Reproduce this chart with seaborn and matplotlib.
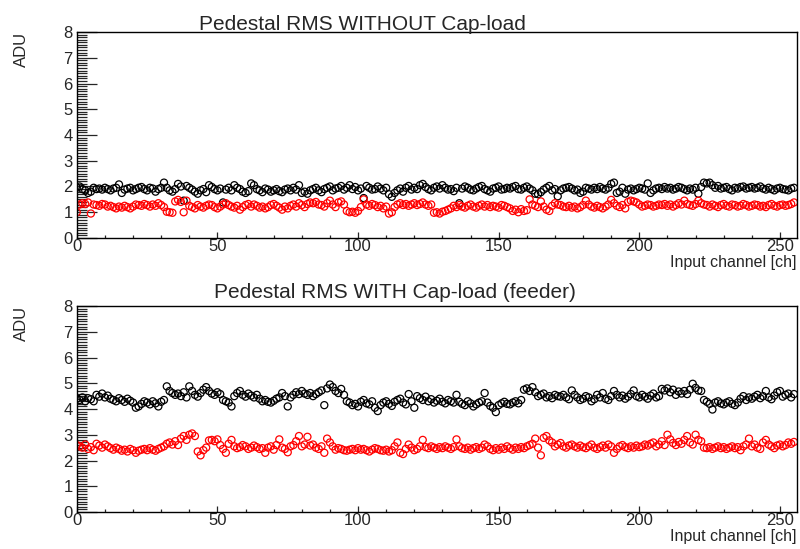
import numpy as np
import pandas as pd
import matplotlib
matplotlib.use("Agg")
import matplotlib.pyplot as plt
import seaborn as sns
from matplotlib.ticker import MultipleLocator, AutoMinorLocator

# pedestal RMS per channel (ADU)
rms_nocap_black = [
    1.95, 2.00, 1.90, 1.85, 1.75, 1.80, 1.95, 1.90, 1.92, 1.88, 1.95, 1.90, 1.85, 1.92, 1.95, 2.08,
    1.75, 1.88, 1.92, 1.95, 1.85, 1.90, 1.95, 1.98, 1.90, 1.85, 1.95, 1.92, 1.80, 1.90, 1.95, 2.15,
    1.95, 1.85, 1.80, 1.90, 2.10, 2.00, 1.45, 2.02, 1.95, 1.88, 1.80, 1.72, 1.85, 1.90, 1.78, 2.05,
    1.98, 1.90, 1.85, 1.92, 1.38, 1.88, 1.95, 1.85, 2.05, 1.95, 1.90, 1.80, 1.75, 1.82, 2.12, 2.05,
    1.90, 1.85, 1.78, 1.92, 1.88, 1.80, 1.85, 1.90, 1.82, 1.78, 1.88, 1.92, 1.85, 1.95, 1.88, 2.05,
    1.75, 1.80, 1.72, 1.85, 1.90, 1.95, 1.85, 1.78, 1.90, 1.95, 2.00, 1.85, 1.92, 1.95, 2.02, 1.88,
    1.95, 2.05, 1.90, 1.98, 1.85, 1.92, 1.55, 2.02, 1.95, 1.88, 1.90, 2.00, 1.92, 1.85, 1.95, 1.70,
    1.60, 1.75, 1.85, 1.92, 1.80, 1.95, 2.02, 1.88, 1.95, 1.90, 2.05, 2.10, 1.98, 1.90, 1.85, 1.95,
    2.00, 1.92, 2.05, 1.95, 1.88, 1.90, 1.82, 1.95, 1.35, 1.92, 2.00, 1.95, 1.88, 1.85, 1.92, 1.98,
    2.02, 1.90, 1.85, 1.80, 1.92, 1.95, 2.00, 1.88, 1.90, 1.95, 1.92, 1.98, 2.02, 1.90, 1.88, 1.95,
    2.00, 1.92, 1.85, 1.72, 1.70, 1.78, 1.88, 1.95, 2.02, 1.85, 1.90, 1.62, 1.85, 1.92, 1.95, 1.98,
    1.92, 1.85, 1.88, 1.75, 1.80, 1.95, 1.92, 1.88, 1.95, 1.90, 1.98, 1.92, 1.88, 1.95, 2.10, 2.15,
    1.75, 1.80, 1.95, 1.72, 1.88, 1.92, 1.85, 1.90, 1.95, 1.92, 1.88, 2.12, 1.75, 1.85, 1.92, 1.95,
    1.90, 1.98, 1.92, 1.95, 1.88, 1.92, 1.98, 1.95, 1.90, 1.85, 1.92, 1.88, 1.95, 1.72, 1.98, 2.15,
    2.12, 2.15, 2.05, 1.95, 2.02, 1.92, 1.95, 1.98, 1.90, 1.85, 1.95, 1.92, 1.98, 2.00, 1.92, 1.95,
    1.98, 1.92, 1.95, 2.00, 1.92, 1.88, 1.95, 1.90, 1.85, 1.92, 1.95, 1.90, 1.88, 1.85, 1.92, 1.95,
]
rms_nocap_red = [
    1.00, 1.30, 1.35, 1.32, 1.38, 0.95, 1.30, 1.28, 1.25, 1.32, 1.30, 1.22, 1.25, 1.20, 1.15, 1.22,
    1.18, 1.25, 1.20, 1.15, 1.22, 1.30, 1.28, 1.25, 1.32, 1.28, 1.22, 1.30, 1.25, 1.35, 1.28, 1.20,
    1.02, 1.00, 0.98, 1.42, 1.48, 1.40, 1.00, 1.45, 1.25, 1.20, 1.15, 1.28, 1.22, 1.18, 1.25, 1.30,
    1.28, 1.20, 1.15, 1.22, 1.30, 1.35, 1.28, 1.22, 1.18, 1.25, 1.10, 1.20, 1.28, 1.32, 1.22, 1.30,
    1.25, 1.18, 1.22, 1.15, 1.20, 1.28, 1.32, 1.25, 1.18, 1.10, 1.22, 1.15, 1.25, 1.30, 1.22, 1.35,
    1.28, 1.20, 1.32, 1.38, 1.35, 1.40, 1.30, 1.28, 1.22, 1.35, 1.45, 1.30, 1.20, 1.38, 1.42, 1.30,
    1.05, 1.00, 1.02, 0.98, 1.05, 1.20, 1.50, 1.30, 1.25, 1.32, 1.28, 1.20, 1.25, 1.15, 1.22, 0.95,
    1.00, 1.20, 1.30, 1.35, 1.28, 1.32, 1.25, 1.30, 1.35, 1.28, 1.32, 1.38, 1.30, 1.25, 1.30, 0.98,
    1.00, 0.95, 1.02, 1.05, 1.10, 1.15, 1.25, 1.20, 1.28, 1.22, 1.18, 1.25, 1.30, 1.22, 1.18, 1.25,
    1.30, 1.22, 1.28, 1.20, 1.25, 1.22, 1.18, 1.28, 1.25, 1.20, 1.15, 1.05, 1.10, 1.00, 1.12, 1.05,
    1.08, 1.50, 1.30, 1.25, 1.20, 1.42, 1.22, 1.10, 1.05, 1.25, 1.35, 1.30, 1.28, 1.22, 1.20, 1.25,
    1.18, 1.22, 1.15, 1.20, 1.28, 1.45, 1.30, 1.22, 1.18, 1.25, 1.20, 1.15, 1.22, 1.30, 1.48, 1.35,
    1.25, 1.20, 1.28, 1.15, 1.40, 1.45, 1.42, 1.38, 1.30, 1.22, 1.25, 1.30, 1.28, 1.22, 1.25, 1.30,
    1.28, 1.32, 1.25, 1.30, 1.22, 1.28, 1.35, 1.30, 1.45, 1.32, 1.28, 1.25, 1.32, 1.45, 1.35, 1.30,
    1.28, 1.22, 1.30, 1.25, 1.20, 1.28, 1.32, 1.25, 1.22, 1.30, 1.28, 1.22, 1.25, 1.32, 1.28, 1.22,
    1.25, 1.30, 1.28, 1.22, 1.25, 1.20, 1.28, 1.32, 1.25, 1.22, 1.28, 1.30, 1.25, 1.28, 1.32, 1.38,
]
rms_cap_black = [
    4.40, 4.35, 4.45, 4.30, 4.42, 4.38, 4.30, 4.55, 4.48, 4.60, 4.45, 4.52, 4.40, 4.35, 4.30, 4.42,
    4.35, 4.28, 4.40, 4.32, 4.25, 4.05, 4.10, 4.20, 4.30, 4.25, 4.18, 4.30, 4.22, 4.10, 4.28, 4.35,
    4.88, 4.70, 4.62, 4.55, 4.60, 4.50, 4.65, 4.45, 4.88, 4.70, 4.55, 4.48, 4.62, 4.75, 4.85, 4.70,
    4.60, 4.55, 4.65, 4.58, 4.35, 4.30, 4.25, 4.10, 4.50, 4.62, 4.70, 4.55, 4.48, 4.60, 4.52, 4.45,
    4.55, 4.40, 4.30, 4.35, 4.28, 4.25, 4.32, 4.40, 4.45, 4.62, 4.50, 4.10, 4.45, 4.55, 4.65, 4.58,
    4.70, 4.60, 4.55, 4.62, 4.50, 4.58, 4.65, 4.72, 4.15, 4.80, 4.95, 4.85, 4.70, 4.62, 4.78, 4.55,
    4.30, 4.25, 4.15, 4.20, 4.10, 4.28, 4.35, 4.22, 4.18, 4.30, 4.05, 3.92, 4.15, 4.25, 4.30, 4.20,
    4.12, 4.28, 4.35, 4.40, 4.25, 4.18, 4.58, 4.30, 4.05, 4.50, 4.42, 4.35, 4.48, 4.30, 4.38, 4.25,
    4.32, 4.40, 4.28, 4.22, 4.35, 4.30, 4.25, 4.55, 4.28, 4.20, 4.15, 4.30, 4.22, 4.10, 4.18, 4.25,
    4.30, 4.62, 4.25, 4.12, 4.05, 3.88, 4.15, 4.22, 4.28, 4.20, 4.18, 4.25, 4.30, 4.22, 4.35, 4.75,
    4.80, 4.70, 4.85, 4.65, 4.50, 4.55, 4.60, 4.45, 4.50, 4.42, 4.55, 4.50, 4.48, 4.55, 4.45, 4.38,
    4.72, 4.55, 4.45, 4.35, 4.40, 4.50, 4.45, 4.30, 4.38, 4.55, 4.45, 4.62, 4.40, 4.35, 4.50, 4.70,
    4.55, 4.45, 4.52, 4.40, 4.48, 4.58, 4.72, 4.50, 4.45, 4.55, 4.48, 4.40, 4.52, 4.60, 4.45, 4.50,
    4.78, 4.72, 4.80, 4.65, 4.75, 4.55, 4.68, 4.60, 4.70, 4.58, 4.75, 4.98, 4.82, 4.72, 4.70, 4.35,
    4.28, 4.20, 3.98, 4.25, 4.30, 4.22, 4.18, 4.25, 4.30, 4.20, 4.15, 4.25, 4.40, 4.50, 4.35, 4.45,
    4.40, 4.48, 4.55, 4.42, 4.50, 4.70, 4.45, 4.38, 4.52, 4.65, 4.70, 4.48, 4.55, 4.60, 4.45, 4.58,
]
rms_cap_red = [
    2.60, 2.55, 2.50, 2.62, 2.45, 2.52, 2.40, 2.65, 2.58, 2.50, 2.62, 2.55, 2.48, 2.42, 2.50, 2.45,
    2.38, 2.42, 2.35, 2.45, 2.40, 2.30, 2.38, 2.42, 2.45, 2.40, 2.48, 2.42, 2.38, 2.45, 2.50, 2.55,
    2.65, 2.70, 2.62, 2.75, 2.60, 2.85, 2.95, 2.80, 3.00, 3.05, 2.95, 2.35, 2.20, 2.40, 2.50, 2.78,
    2.80, 2.75, 2.82, 2.60, 2.45, 2.30, 2.65, 2.80, 2.55, 2.48, 2.52, 2.60, 2.55, 2.45, 2.50, 2.58,
    2.52, 2.45, 2.48, 2.30, 2.50, 2.55, 2.42, 2.60, 2.82, 2.50, 2.45, 2.32, 2.55, 2.60, 2.75, 2.95,
    2.55, 2.62, 2.92, 2.58, 2.62, 2.50, 2.45, 2.55, 2.30, 2.85, 2.70, 2.55, 2.42, 2.48, 2.45, 2.40,
    2.38, 2.42, 2.45, 2.40, 2.48, 2.42, 2.45, 2.40, 2.35, 2.42, 2.48, 2.45, 2.40, 2.38, 2.42, 2.35,
    2.40, 2.55, 2.70, 2.30, 2.25, 2.45, 2.62, 2.50, 2.40, 2.45, 2.55, 2.80, 2.52, 2.48, 2.55, 2.50,
    2.45, 2.52, 2.48, 2.55, 2.50, 2.45, 2.52, 2.82, 2.55, 2.48, 2.45, 2.50, 2.42, 2.48, 2.52, 2.45,
    2.50, 2.62, 2.55, 2.45, 2.40, 2.48, 2.42, 2.50, 2.45, 2.55, 2.48, 2.42, 2.50, 2.45, 2.52, 2.48,
    2.55, 2.60, 2.65, 2.85, 2.50, 2.20, 2.88, 2.95, 2.78, 2.70, 2.55, 2.62, 2.68, 2.55, 2.50, 2.58,
    2.62, 2.55, 2.50, 2.58, 2.52, 2.48, 2.55, 2.62, 2.50, 2.45, 2.52, 2.58, 2.50, 2.62, 2.55, 2.30,
    2.45, 2.55, 2.60, 2.52, 2.48, 2.55, 2.50, 2.58, 2.52, 2.55, 2.62, 2.58, 2.65, 2.70, 2.55, 2.62,
    2.75, 2.60, 3.00, 2.82, 2.68, 2.60, 2.72, 2.65, 2.80, 2.95, 2.70, 2.62, 3.00, 2.80, 2.75, 2.50,
    2.48, 2.52, 2.45, 2.50, 2.55, 2.48, 2.52, 2.45, 2.50, 2.55, 2.48, 2.52, 2.40, 2.55, 2.62, 2.85,
    2.55, 2.62, 2.50, 2.45, 2.70, 2.80, 2.62, 2.55, 2.48, 2.58, 2.62, 2.55, 2.60, 2.70, 2.65, 2.72,
]
channels = np.arange(256)

sns.set_theme(style="white")
plt.rcParams['font.family'] = ['Liberation Sans', 'DejaVu Sans']

fig = plt.figure(figsize=(8, 5.49), dpi=100)
ax_top = fig.add_axes([0.096, 0.5665, 0.9, 0.3752])
ax_bot = fig.add_axes([0.096, 0.0674, 0.9, 0.3752])

panels = [
    (ax_top, rms_nocap_black, rms_nocap_red),
    (ax_bot, rms_cap_black, rms_cap_red),
]
for ax, blk, red in panels:
    df = pd.DataFrame({'ch': channels, 'black': blk, 'red': red})
    sns.scatterplot(x='ch', y='black', data=df, ax=ax, marker='o', s=26,
                    facecolors='none', edgecolor='black', linewidth=0.9)
    sns.scatterplot(x='ch', y='red', data=df, ax=ax, marker='o', s=26,
                    facecolors='none', edgecolor='#ff0000', linewidth=0.9)
    ax.set_xlim(0, 256)
    ax.set_ylim(0, 8)
    ax.set_xlabel('')
    ax.set_ylabel('')
    ax.xaxis.set_major_locator(MultipleLocator(50))
    ax.xaxis.set_minor_locator(MultipleLocator(10))
    ax.yaxis.set_major_locator(MultipleLocator(1))
    ax.yaxis.set_minor_locator(AutoMinorLocator(10))
    ax.tick_params(axis='x', which='major', direction='in', length=4.5, width=0.9,
                   labelsize=12, pad=1, bottom=True, top=False)
    ax.tick_params(axis='x', which='minor', direction='in', length=2.3, width=0.9,
                   bottom=True, top=False)
    ax.tick_params(axis='y', which='major', direction='in', length=14.5, width=0.9,
                   labelsize=12, pad=3, left=True, right=False)
    ax.tick_params(axis='y', which='minor', direction='in', length=7.5, width=0.9,
                   left=True, right=False)
    for sp in ax.spines.values():
        sp.set_visible(True)
        sp.set_color('black')
        sp.set_linewidth(1.0)

fig.text(0.453, 0.9454, 'Pedestal RMS WITHOUT Cap-load', ha='center', va='baseline', fontsize=15)
fig.text(0.494, 0.4572, 'Pedestal RMS WITH Cap-load (feeder)', ha='center', va='baseline', fontsize=15)
fig.text(0.027, 0.9417, 'ADU', rotation=90, ha='center', va='top', fontsize=12)
fig.text(0.027, 0.4426, 'ADU', rotation=90, ha='center', va='top', fontsize=12)
fig.text(0.996, 0.5135, 'Input channel [ch]', ha='right', va='baseline', fontsize=11.5)
fig.text(0.996, 0.0145, 'Input channel [ch]', ha='right', va='baseline', fontsize=11.5)

fig.savefig('out.png', dpi=100, facecolor='white')
